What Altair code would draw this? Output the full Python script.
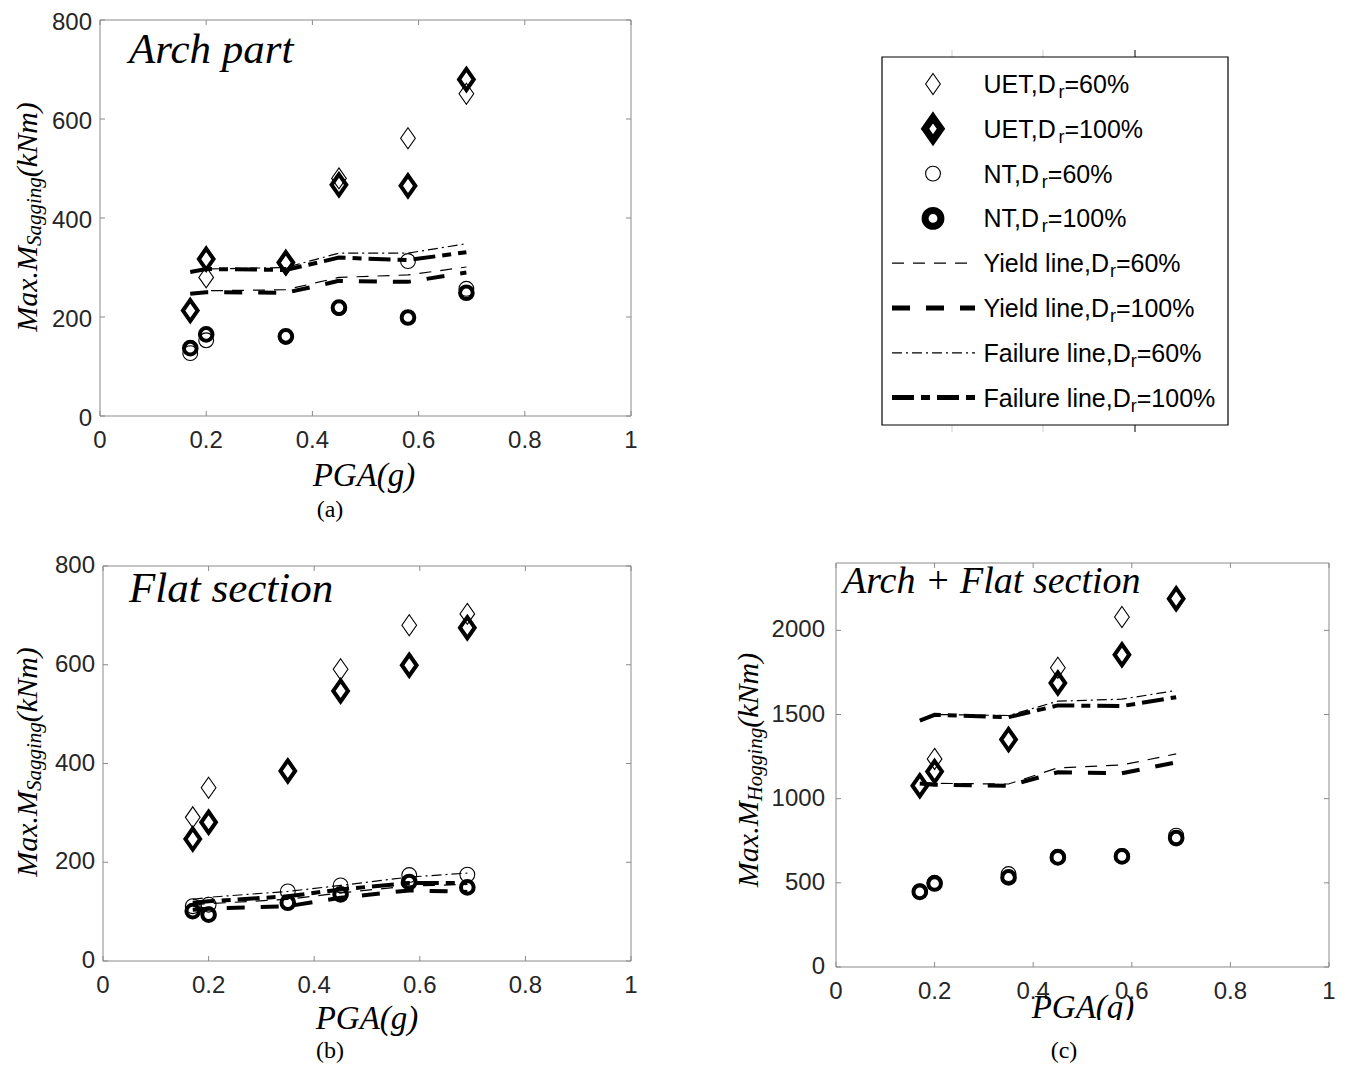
import altair as alt
import pandas as pd

# ---------------- data ----------------
PGA = [0.17, 0.20, 0.35, 0.45, 0.58, 0.69]

X_TICKS = [0, 0.2, 0.4, 0.6, 0.8, 1]
X_TICK_LABELS = ["0", "0.2", "0.4", "0.6", "0.8", "1"]
AB_Y_TICKS = [0, 200, 400, 600, 800]
AB_Y_TICK_LABELS = ["0", "200", "400", "600", "800"]
C_Y_TICKS = [0, 500, 1000, 1500, 2000]
C_Y_TICK_LABELS = ["0", "500", "1000", "1500", "2000"]

# (a) Arch part  - Max. M Sagging
A_UET60 = [215, 280, 305, 480, 561, 651]
A_UET100 = [213, 317, 310, 467, 465, 680]
A_NT60 = [127, 153, 160, 218, 313, 257]
A_NT100 = [137, 165, 161, 219, 199, 249]
A_YIELD60 = [247, 253, 255, 280, 285, 301]
A_YIELD100 = [247, 250, 249, 273, 271, 290]
A_FAIL60 = [293, 297, 300, 329, 329, 348]
A_FAIL100 = [291, 297, 295, 320, 315, 331]

# (b) Flat section - Max. M Sagging
B_UET60 = [291, 351, 385, 591, 680, 703]
B_UET100 = [247, 281, 385, 547, 599, 675]
B_NT60 = [111, 114, 141, 153, 174, 175]
B_NT100 = [101, 94, 118, 135, 160, 149]
B_YIELD60 = [114, 116, 125, 138, 152, 155]
B_YIELD100 = [104, 106, 111, 128, 143, 140]
B_FAIL60 = [125, 129, 141, 153, 170, 178]
B_FAIL100 = [118, 121, 131, 145, 158, 158]

# (c) Arch + Flat section - Max. M Hogging
C_UET60 = [1080, 1236, 1350, 1778, 2079, 2190]
C_UET100 = [1077, 1161, 1351, 1687, 1855, 2188]
C_NT60 = [450, 500, 552, 655, 660, 780]
C_NT100 = [446, 496, 532, 651, 657, 766]
C_YIELD60 = [1095, 1091, 1087, 1183, 1200, 1266]
C_YIELD100 = [1090, 1083, 1077, 1157, 1151, 1216]
C_FAIL60 = [1468, 1500, 1494, 1579, 1591, 1643]
C_FAIL100 = [1464, 1498, 1484, 1554, 1550, 1603]

LEGEND_PREFIX = ["UET,D", "UET,D", "NT,D", "NT,D",
                 "Yield line,D", "Yield line,D", "Failure line,D", "Failure line,D"]
LEGEND_SUFFIX = ["=60%", "=100%", "=60%", "=100%", "=60%", "=100%", "=60%", "=100%"]

# ---------------- styling / layout ----------------
OFF = 8  # page margin
SANS = "Liberation Sans"
SERIF = "Liberation Serif"
FRAME = "#8a8a8a"
LABEL = "#262626"
DIAMOND = "M0,-1L0.7,0L0,1L-0.7,0Z"

STYLE = {
    "UET60": dict(kind="point", shape=DIAMOND, size=441, sw=1.1, lsize=441, lsw=1.1),
    "UET100": dict(kind="point", shape=DIAMOND, size=441, sw=4, lsize=520, lsw=7),
    "NT60": dict(kind="point", shape="circle", size=220, sw=1.1, lsize=220, lsw=1.1),
    "NT100": dict(kind="point", shape="circle", size=160, sw=4, lsize=250, lsw=7),
    "Y60": dict(kind="line", dash=[12, 9], sw=1.2, lsw=1.2),
    "Y100": dict(kind="line", dash=[18, 16], sw=4, lsw=5),
    "F60": dict(kind="line", dash=[10, 4, 2, 4], sw=1.2, lsw=1.2),
    "F100": dict(kind="line", dash=[22, 7, 9, 7], sw=4, lsw=5),
}
ORDER = ["UET60", "UET100", "NT60", "NT100", "Y60", "Y100", "F60", "F100"]

PANELS = [
    dict(x0=100, x1=631, yb=416, yt=20, ymax=800, ygap=8, ydy=3,
         yt_vals=AB_Y_TICKS, yt_labs=AB_Y_TICK_LABELS,
         series=[A_UET60, A_UET100, A_NT60, A_NT100, A_YIELD60, A_YIELD100, A_FAIL60, A_FAIL100]),
    dict(x0=103, x1=631, yb=961, yt=566, ymax=800, ygap=8, ydy=0,
         yt_vals=AB_Y_TICKS, yt_labs=AB_Y_TICK_LABELS,
         series=[B_UET60, B_UET100, B_NT60, B_NT100, B_YIELD60, B_YIELD100, B_FAIL60, B_FAIL100]),
    dict(x0=836, x1=1329, yb=967, yt=563, ymax=2400, ygap=11, ydy=0,
         yt_vals=C_Y_TICKS, yt_labs=C_Y_TICK_LABELS,
         series=[C_UET60, C_UET100, C_NT60, C_NT100, C_YIELD60, C_YIELD100, C_FAIL60, C_FAIL100]),
]

ONE = pd.DataFrame({"k": [0]})

TIMES_I = {"M": 833, "a": 500, "x": 444, ".": 250, "S": 500, "g": 500, "i": 278, "n": 500,
           "H": 722, "o": 500, "(": 333, "k": 444, "N": 667, "m": 722, ")": 333}
ARIAL = {"U": 722, "E": 667, "T": 611, ",": 278, "D": 722, "N": 722, "Y": 667, "i": 222,
         "e": 556, "l": 222, "d": 556, " ": 278, "n": 556, "F": 611, "a": 556, "u": 556,
         "r": 333, "=": 584, "6": 556, "0": 556, "1": 556, "%": 889}


def width(s, size, table):
    return sum(table.get(c, 500) for c in s) / 1000.0 * size


def txt(s, x, y, size, font=SANS, style="normal", align="left", baseline="alphabetic",
        angle=0, color="#000000"):
    return alt.Chart(ONE).mark_text(
        text=s, font=font, fontSize=size, fontStyle=style, align=align,
        baseline=baseline, angle=angle, color=color
    ).encode(x=alt.value(x - OFF), y=alt.value(y - OFF))


def panel_layers(p):
    xs = alt.Scale(domain=[0, 1], range=[p["x0"] - OFF, p["x1"] - OFF], nice=False, zero=False)
    ys = alt.Scale(domain=[0, p["ymax"]], range=[p["yb"] - OFF, p["yt"] - OFF], nice=False, zero=False)

    def X(f):
        return alt.X(f, type="quantitative", scale=xs, axis=None)

    def Y(f):
        return alt.Y(f, type="quantitative", scale=ys, axis=None)

    layers = []
    frame = pd.DataFrame({"xa": [0], "xb": [1], "ya": [0], "yb": [p["ymax"]]})
    layers.append(alt.Chart(frame).mark_rect(fillOpacity=0, stroke=FRAME, strokeWidth=1)
                  .encode(x=X("xa"), x2="xb", y=Y("ya"), y2="yb"))

    xt = pd.DataFrame({"v": X_TICKS, "lab": X_TICK_LABELS})
    yt = pd.DataFrame({"v": p["yt_vals"], "lab": p["yt_labs"]})
    yb, ytop, x0, x1 = p["yb"] - OFF, p["yt"] - OFF, p["x0"] - OFF, p["x1"] - OFF
    L = 5
    layers.append(alt.Chart(xt).mark_rule(color=FRAME, strokeWidth=1)
                  .encode(x=X("v"), y=alt.value(yb), y2=alt.value(yb - L)))
    layers.append(alt.Chart(xt).mark_rule(color=FRAME, strokeWidth=1)
                  .encode(x=X("v"), y=alt.value(ytop), y2=alt.value(ytop + L)))
    layers.append(alt.Chart(yt).mark_rule(color=FRAME, strokeWidth=1)
                  .encode(y=Y("v"), x=alt.value(x0), x2=alt.value(x0 + L)))
    layers.append(alt.Chart(yt).mark_rule(color=FRAME, strokeWidth=1)
                  .encode(y=Y("v"), x=alt.value(x1), x2=alt.value(x1 - L)))
    layers.append(alt.Chart(xt).mark_text(font=SANS, fontSize=24, color=LABEL, align="center",
                                          baseline="middle")
                  .encode(x=X("v"), y=alt.value(yb + 25), text="lab:N"))
    layers.append(alt.Chart(yt).mark_text(font=SANS, fontSize=24, color=LABEL, align="right",
                                          baseline="middle", dy=p["ydy"])
                  .encode(y=Y("v"), x=alt.value(x0 - p["ygap"]), text="lab:N"))

    for key, vals in zip(ORDER, p["series"]):
        st = STYLE[key]
        df = pd.DataFrame({"pga": PGA, "m": vals})
        if st["kind"] == "point":
            mk = alt.Chart(df).mark_point(shape=st["shape"], size=st["size"], filled=False,
                                          color="#000000", strokeWidth=st["sw"], opacity=1)
        else:
            mk = alt.Chart(df).mark_line(color="#000000", strokeWidth=st["sw"],
                                         strokeDash=st["dash"], opacity=1)
        layers.append(mk.encode(x=X("pga"), y=Y("m")))
    return layers


def ytitle(sub, cy, bx):
    pieces = [("Max.M", 30, 0), (sub, 21, 4), ("(kNm)", 30, 0)]
    total = sum(width(s, sz, TIMES_I) for s, sz, _ in pieces)
    y = cy + total / 2.0
    out = []
    for s, sz, dx in pieces:
        out.append(txt(s, bx + dx, y, sz, font=SERIF, style="italic", angle=270))
        y -= width(s, sz, TIMES_I)
    return out


layers = []
for p in PANELS:
    layers += panel_layers(p)

# panel texts
layers.append(txt("Arch part", 129, 63, 43, font=SERIF, style="italic"))
layers.append(txt("Flat section", 129, 602, 43, font=SERIF, style="italic"))
layers.append(txt("Arch + Flat section", 843, 593, 38, font=SERIF, style="italic"))
layers += ytitle("Sagging", 217, 37)
layers += ytitle("Sagging", 762, 37)
layers += ytitle("Hogging", 770, 758)
layers.append(txt("PGA(g)", 364, 486, 33, font=SERIF, style="italic", align="center"))
layers.append(txt("PGA(g)", 367, 1029, 33, font=SERIF, style="italic", align="center"))
layers.append(txt("PGA(g)", 1083, 1018, 33, font=SERIF, style="italic", align="center"))
# clipped bottom of the (c) x title
layers.append(alt.Chart(ONE).mark_rect(color="white").encode(
    x=alt.value(1025 - OFF), x2=alt.value(1145 - OFF), y=alt.value(1020 - OFF), y2=alt.value(1034 - OFF)))
layers.append(txt("(a)", 330, 517, 24, font=SERIF, align="center"))
layers.append(txt("(b)", 330, 1058, 24, font=SERIF, align="center"))
layers.append(txt("(c)", 1064, 1058, 24, font=SERIF, align="center"))

# ---------------- legend ----------------
LX0, LX1, LY0, LY1 = 882, 1228, 57, 425
for xx, col in [(952, "#cfcfcf"), (1043, "#cfcfcf"), (1135, "#000000")]:
    layers.append(alt.Chart(ONE).mark_rule(color=col, strokeWidth=1).encode(
        x=alt.value(xx - OFF), y=alt.value(50 - OFF), y2=alt.value(LY0 - OFF)))
    layers.append(alt.Chart(ONE).mark_rule(color=col, strokeWidth=1).encode(
        x=alt.value(xx - OFF), y=alt.value(LY1 - OFF), y2=alt.value(432 - OFF)))
layers.append(alt.Chart(ONE).mark_rect(fill="white", stroke="#000000", strokeWidth=1.2).encode(
    x=alt.value(LX0 - OFF), x2=alt.value(LX1 - OFF), y=alt.value(LY0 - OFF), y2=alt.value(LY1 - OFF)))

BASE0, STEP = 93.0, 44.8
idx = pd.DataFrame({"i": list(range(8))})
ls = alt.Scale(domain=[0, 7], range=[BASE0 - 9 - OFF, BASE0 + 7 * STEP - 9 - OFF], nice=False, zero=False)
for i, key in enumerate(ORDER):
    st = STYLE[key]
    d = idx[idx["i"] == i]
    Yl = alt.Y("i:Q", scale=ls, axis=None)
    if st["kind"] == "point":
        layers.append(alt.Chart(d).mark_point(shape=st["shape"], size=st["lsize"], filled=False,
                                              color="#000000", strokeWidth=st["lsw"], opacity=1)
                      .encode(x=alt.value(933 - OFF), y=Yl))
    else:
        layers.append(alt.Chart(d).mark_rule(color="#000000", strokeWidth=st["lsw"], strokeDash=st["dash"])
                      .encode(x=alt.value(892 - OFF), x2=alt.value(975 - OFF), y=Yl))
    base = BASE0 + i * STEP
    tx = 983.5
    layers.append(txt(LEGEND_PREFIX[i], tx, base, 25))
    tx += width(LEGEND_PREFIX[i], 25, ARIAL)
    layers.append(txt("r", tx, base + 5, 18))
    tx += width("r", 18, ARIAL)
    layers.append(txt(LEGEND_SUFFIX[i], tx, base, 25))

chart = alt.layer(*layers).resolve_scale(x="independent", y="independent").properties(
    width=1332, height=1055, autosize=alt.AutoSizeParams(type="none"), padding=0,
    background="white"
).configure_view(stroke=None)

chart.save("out.html", embed_options={"renderer": "svg", "actions": False})
